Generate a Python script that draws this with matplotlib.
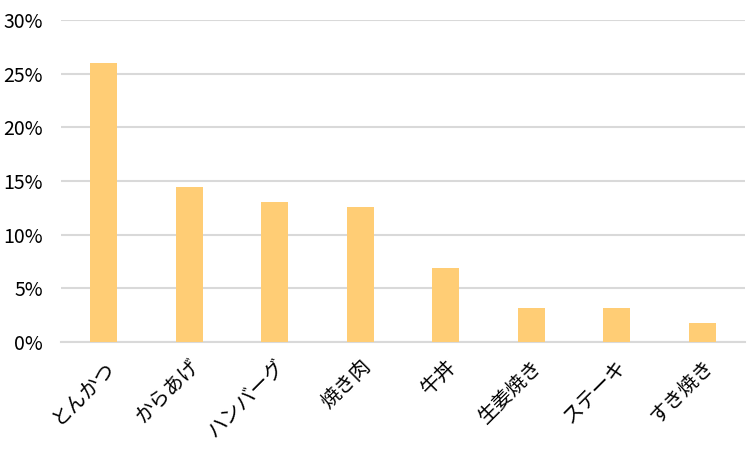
import matplotlib
matplotlib.use("Agg")
import matplotlib.pyplot as plt
from matplotlib.ticker import FuncFormatter

plt.rcParams['font.family'] = ['Noto Sans CJK JP', 'DejaVu Sans']

# データ
dishes = ["とんかつ", "からあげ", "ハンバーグ", "焼き肉", "牛丼", "生姜焼き", "ステーキ", "すき焼き"]
shares = [26.0, 14.4, 13.0, 12.6, 6.9, 3.2, 3.2, 1.8]
y_ticks = [0, 5, 10, 15, 20, 25, 30]

fig = plt.figure(figsize=(7.5, 4.5), dpi=100)
ax = fig.add_axes([61 / 750, 1 - 342 / 450, 684 / 750, 322 / 450])

ax.bar(range(len(dishes)), shares, width=0.32, color="#ffcd75", zorder=3)

ax.set_xlim(-0.5, len(dishes) - 0.5)
ax.set_ylim(0, 30)
ax.set_yticks(y_ticks)
ax.yaxis.set_major_formatter(FuncFormatter(lambda v, p: f"{v:.0f}%"))
ax.grid(axis="y", color="#d9d9d9", linewidth=1.5, zorder=0)

ax.set_xticks(range(len(dishes)))
ax.set_xticklabels(dishes, rotation=45, ha="right", rotation_mode="anchor", fontsize=14.5)
ax.tick_params(axis="both", length=0)
ax.tick_params(axis="y", labelsize=14, pad=13)
ax.tick_params(axis="x", pad=10)

for side in ["top", "right", "left"]:
    ax.spines[side].set_visible(False)
ax.spines["bottom"].set_color("#d9d9d9")
ax.spines["bottom"].set_linewidth(1.5)

fig.savefig("out.png", dpi=100)
